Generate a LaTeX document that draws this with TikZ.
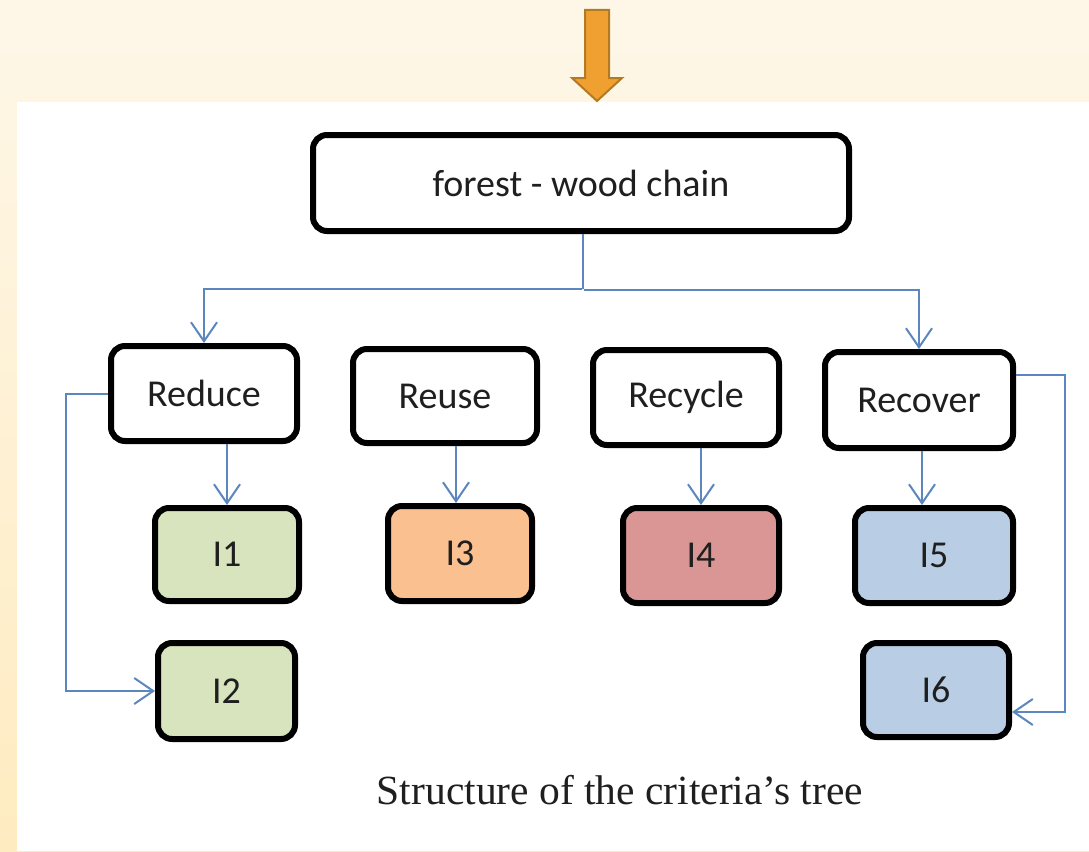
\documentclass[tikz,border=0pt]{standalone}
\usepackage{fontspec}
\setmainfont{Liberation Serif}
\newfontfamily\boxfont{Carlito}
\usetikzlibrary{arrows.meta,positioning}

\definecolor{creamtop}{HTML}{FEF7E8}
\definecolor{creambot}{HTML}{FEEBC0}
\definecolor{linkblue}{HTML}{5B87BE}
\definecolor{fillgreen}{HTML}{D7E4BD}
\definecolor{fillorange}{HTML}{FAC090}
\definecolor{fillred}{HTML}{D99694}
\definecolor{fillblue}{HTML}{B9CDE5}
\definecolor{arrowfill}{HTML}{F0A030}
\definecolor{arrowedge}{HTML}{B47A22}

\tikzset{
  x=1pt, y=-1pt,
  box/.style={draw=black, line width=6pt, rounded corners=14pt, fill=white,
    font=\boxfont\fontsize{38}{42}\selectfont, text=black!88, inner sep=0pt},
  link/.style={draw=linkblue, line width=2pt,
    -{Straight Barb[length=19pt,width=26pt,line width=2pt]}},
  plain link/.style={draw=linkblue, line width=2pt},
}

\begin{document}
\begin{tikzpicture}
  % page background and white panel
  \shade[top color=creamtop, bottom color=creambot] (0,0) rectangle (1089,851);
  \fill[white] (17,102) rectangle (1089,851);
  \useasboundingbox (0,0) rectangle (1089,851);

  % block arrow at the top
  \filldraw[fill=arrowfill, draw=arrowedge, line width=2pt, line join=miter]
    (585,10) -- (609,10) -- (609,78) -- (622,78) -- (597,101)
    -- (572,78) -- (585,78) -- cycle;

  % root
  \node[box, minimum width=536pt, minimum height=96pt] (root) at (581,183) {forest - wood chain};

  % strategies
  \node[box, minimum width=186pt, minimum height=95pt] (reduce)  at (204,393.5) {Reduce};
  \node[box, minimum width=184pt, minimum height=94pt] (reuse)   at (445,396)   {Reuse};
  \node[box, minimum width=186pt, minimum height=95pt] (recycle) at (686,397.5) {Recycle};
  \node[box, minimum width=188pt, minimum height=96pt] (recover) at (919,400)   {Recover};

  % indicators
  \node[box, fill=fillgreen,  minimum width=144pt, minimum height=93pt] (i1) at (227,554.5) {I1};
  \node[box, fill=fillorange, minimum width=144pt, minimum height=95pt] (i3) at (460,553.5) {I3};
  \node[box, fill=fillred,    minimum width=156pt, minimum height=95pt] (i4) at (701,555.5) {I4};
  \node[box, fill=fillblue,   minimum width=158pt, minimum height=95pt] (i5) at (934,555.5) {I5};
  \node[box, fill=fillgreen,  minimum width=137pt, minimum height=96pt] (i2) at (226.5,691) {I2};
  \node[box, fill=fillblue,   minimum width=146pt, minimum height=94pt] (i6) at (936,690)   {I6};

  % caption
  \node[font=\fontsize{41.5}{46}\selectfont, text=black!88] (caption) at (620,790)
    {Structure of the criteria’s tree};

  % root to strategies
  \coordinate (split) at ([xshift=2pt]root.south);
  \draw[plain link] (split) -- ++(0,55);
  \draw[link] ([xshift=-1pt]split) ++(0,55) -| (reduce.north);
  \draw[link] ([xshift=1pt]split) ++(0,56) -| (recover.north);

  % strategies to indicators
  \draw[link] (i1.north |- reduce.south) -- (i1.north);
  \draw[link] ([xshift=-4pt]i3.north |- reuse.south) -- ([xshift=-4pt]i3.north);
  \draw[link] (i4.north |- recycle.south) -- (i4.north);
  \draw[link] ([xshift=-12pt]i5.north |- recover.south) -- ([xshift=-12pt]i5.north);

  % side loops
  \draw[link] (reduce.west) -- ++(-42,0) |- (i2.west);
  \draw[link] ([yshift=25pt]recover.east) -- ++(49,0) |- ([yshift=-22pt]i6.east);
\end{tikzpicture}
\end{document}
